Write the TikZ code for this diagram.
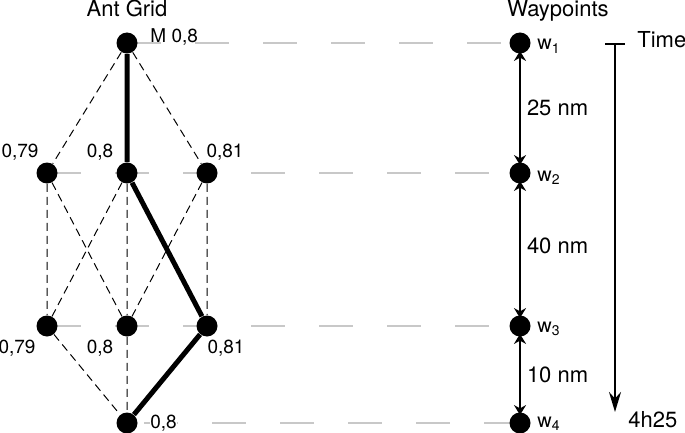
\documentclass[tikz,border=0pt]{standalone}
\usepackage{fontspec}
\setmainfont{TeX Gyre Heros}
\usepackage{tikz}
\usetikzlibrary{arrows.meta, positioning, backgrounds}

\definecolor{guidegray}{RGB}{200,200,200}

\begin{document}
\begin{tikzpicture}[x=0.5pt, y=-0.5pt,
        dot/.style={circle, fill=black, inner sep=0pt, minimum size=10.5pt},
        link/.style={line width=0.5pt, dash pattern=on 4pt off 2.5pt},
        route/.style={line width=2.5pt},
        guide/.style={draw=guidegray, line width=1pt, dash pattern=on 17pt off 17pt},
        leg/.style={line width=1pt, shorten <=-1.5pt, shorten >=-1.5pt,
            {Stealth[length=5pt,width=6pt]}-{Stealth[length=5pt,width=6pt]}},
        val/.style={font=\fontsize{9.5}{11}\selectfont, anchor=base, inner sep=0pt},
        big/.style={font=\fontsize{11}{13}\selectfont, anchor=base, inner sep=0pt},
        wl/.style={font=\fontsize{10}{12}\selectfont, anchor=base west, inner sep=0pt},
        dist/.style={font=\fontsize{11}{13}\selectfont, right, inner sep=3pt},
    ]
    \useasboundingbox (0,0) rectangle (685,433);

    % ant grid
    \node[dot] (m) at (127,43) {};
    \node[dot] (l2) at (47,173) {};
    \node[dot] (c2) at (127,173) {};
    \node[dot] (r2) at (207,173) {};
    \node[dot] (l3) at (47,326) {};
    \node[dot] (c3) at (127,326) {};
    \node[dot] (r3) at (207,326) {};
    \node[dot] (b) at (127,423) {};

    % waypoints
    \node[dot] (w1) at (520,43) {};
    \node[dot] (w2) at (520,173) {};
    \node[dot] (w3) at (520,326) {};
    \node[dot] (w4) at (520,423) {};

    \node[big] (gridtitle) at (127,17) {Ant Grid};
    \node[big] (waytitle) at (558,17) {Waypoints};

    \node[val, anchor=base west] (mval) at (150,43) {M 0,8};
    \node[val] (l2val) at (20,157) {0,79};
    \node[val] (c2val) at (100,157) {0,8};
    \node[val] (r2val) at (225,157) {0,81};
    \node[val] (l3val) at (17,353) {0,79};
    \node[val] (c3val) at (100,353) {0,8};
    \node[val] (r3val) at (226,353) {0,81};
    \node[val, anchor=base west, fill=white] (bval) at (150,428) {0,8};

    \node[wl] (w1l) at (537,50) {w\textsubscript{1}};
    \node[wl] (w2l) at (537,181) {w\textsubscript{2}};
    \node[wl] (w3l) at (537,332) {w\textsubscript{3}};
    \node[wl] (w4l) at (537,427) {w\textsubscript{4}};

    \begin{scope}[on background layer]
        \draw[guide] (m.center) -- (w1.center);
        \draw[guide] (l2.center) -- (w2.center);
        \draw[guide] (l3.center) -- (w3.center);
        \draw[guide, dash phase=25.5pt] (b.center) -- (w4.center);
    \end{scope}

    \draw[link] (m) -- (l2) (m) -- (r2)
        (l2) -- (l3) (l2) -- (c3) (c2) -- (l3) (c2) -- (c3)
        (r2) -- (c3) (r2) -- (r3)
        (l3) -- (b) (c3) -- (b);
    \draw[route] (m) -- (c2) -- (r3) -- (b);

    \draw[leg] (w1) -- node[dist] (d12) {25 nm} (w2);
    \draw[leg] (w2) -- node[dist, pos=0.47] (d23) {40 nm} (w3);
    \draw[leg] (w3) -- node[dist] (d34) {10 nm} (w4);

    % time axis
    \coordinate (t0) at (615,43);
    \coordinate (t1) at (615,412);
    \draw[line width=1pt, {Bar[width=10pt]}-{Stealth[length=10pt,width=6pt]}] (t0) -- (t1);
    \node[big, anchor=base west] (timel) at (637,48) {Time};
    \node[big, anchor=base west] (tend) at (628,427) {4h25};
\end{tikzpicture}
\end{document}
